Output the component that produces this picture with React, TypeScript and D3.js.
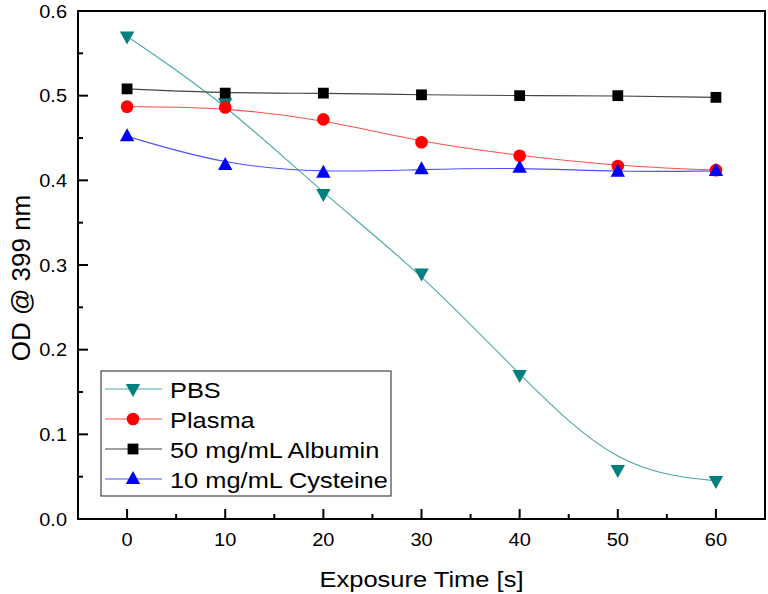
import React from "react";
import * as d3 from "d3";

const times = [0, 10, 20, 30, 40, 50, 60];
const pbs = [0.57, 0.491, 0.384, 0.29, 0.17, 0.058, 0.045];
const plasma = [0.487, 0.486, 0.472, 0.445, 0.429, 0.417, 0.412];
const albumin = [0.508, 0.503, 0.503, 0.501, 0.5, 0.5, 0.498];
const cysteine = [0.452, 0.418, 0.409, 0.413, 0.415, 0.41, 0.411];
const seriesNames = ["PBS", "Plasma", "50 mg/mL Albumin", "10 mg/mL Cysteine"];
const xTicks = [0, 10, 20, 30, 40, 50, 60];
const xMinor = [5, 15, 25, 35, 45, 55];
const yTicks = [0.0, 0.1, 0.2, 0.3, 0.4, 0.5, 0.6];
const yMinor = [0.05, 0.15, 0.25, 0.35, 0.45, 0.55];

const W = 768, H = 594;
const L = 78, R = 765, T = 11, B = 519;
const font = "Liberation Sans, Arial, sans-serif";
const SY = 0.9;

type Shape = "down" | "circle" | "square" | "up";
const series: { name: string; values: number[]; color: string; line: string; shape: Shape }[] = [
  { name: seriesNames[0], values: pbs, color: "#008080", line: "#4aa8a8", shape: "down" },
  { name: seriesNames[1], values: plasma, color: "#ff0000", line: "#ff5050", shape: "circle" },
  { name: seriesNames[2], values: albumin, color: "#000000", line: "#444444", shape: "square" },
  { name: seriesNames[3], values: cysteine, color: "#0000ff", line: "#5050ff", shape: "up" },
];

function Marker({ shape, x, y, color }: { shape: Shape; x: number; y: number; color: string }) {
  if (shape === "circle") return <circle cx={x} cy={y} r={6.3} fill={color} />;
  if (shape === "square") return <rect x={x - 5.4} y={y - 5.4} width={10.8} height={10.8} fill={color} />;
  const s = 7.2;
  if (shape === "down")
    return <path d={`M${x - s},${y - 5}L${x + s},${y - 5}L${x},${y + 8}Z`} fill={color} />;
  return <path d={`M${x - s},${y + 5}L${x + s},${y + 5}L${x},${y - 8}Z`} fill={color} />;
}

function T2({ x, y, size, anchor, children }: { x: number; y: number; size: number; anchor?: string; children: React.ReactNode }) {
  return (
    <text transform={`translate(${x},${y}) scale(1,${SY})`} textAnchor={anchor || "start"} fontSize={size} fill="#000">
      {children}
    </text>
  );
}

export default function App() {
  const x = d3.scaleLinear().domain([-5, 65]).range([L, R]);
  const y = d3.scaleLinear().domain([0, 0.6]).range([B, T]);
  const line = d3
    .line<[number, number]>()
    .x((d) => x(d[0]))
    .y((d) => y(d[1]))
    .curve(d3.curveBasis);

  const legX = 101, legY = 371, legW = 290, legH = 125;
  const rowH = 30;

  return (
    <svg width={W} height={H} style={{ position: "absolute", left: 0, top: 0, background: "#fff" }} fontFamily={font}>
      <rect x={0} y={0} width={W} height={H} fill="#fff" />
      {series.map((s) => (
        <path
          key={s.name + "l"}
          d={line(times.map((t, i) => [t, s.values[i]] as [number, number])) || ""}
          fill="none"
          stroke={s.line}
          strokeWidth={1.1}
        />
      ))}
      {series.map((s) =>
        times.map((t, i) => <Marker key={s.name + t} shape={s.shape} x={x(t)} y={y(s.values[i])} color={s.color} />)
      )}
      <rect x={L} y={T} width={R - L} height={B - T} fill="none" stroke="#000" strokeWidth={2} />
      {xTicks.map((t) => (
        <g key={"xt" + t}>
          <line x1={x(t)} x2={x(t)} y1={B} y2={B - 10} stroke="#000" strokeWidth={2} />
          <T2 x={x(t)} y={546} size={20} anchor="middle">
            {t}
          </T2>
        </g>
      ))}
      {xMinor.map((t) => (
        <line key={"xm" + t} x1={x(t)} x2={x(t)} y1={B} y2={B - 5} stroke="#000" strokeWidth={2} />
      ))}
      {yTicks.map((t) => (
        <g key={"yt" + t}>
          <line x1={L} x2={L + 10} y1={y(t)} y2={y(t)} stroke="#000" strokeWidth={2} />
          <T2 x={67} y={y(t) + 6.5} size={20} anchor="end">
            {t.toFixed(1)}
          </T2>
        </g>
      ))}
      {yMinor.map((t) => (
        <line key={"ym" + t} x1={L} x2={L + 5} y1={y(t)} y2={y(t)} stroke="#000" strokeWidth={2} />
      ))}
      <T2 x={(L + R) / 2} y={587} size={25.5} anchor="middle">
        Exposure Time [s]
      </T2>
      <text transform={`translate(30,278) rotate(-90)`} textAnchor="middle" fontSize={26} fill="#000">
        OD @ 399 nm
      </text>
      <rect x={legX} y={legY} width={legW} height={legH} fill="#fff" stroke="#444" strokeWidth={1.2} />
      {series.map((s, i) => {
        const cy = 389 + i * rowH;
        return (
          <g key={"lg" + s.name}>
            <line x1={105} x2={162} y1={cy} y2={cy} stroke={s.line} strokeWidth={1.1} />
            <Marker shape={s.shape} x={133} y={cy} color={s.color} />
            <T2 x={170} y={cy + 8.5} size={25.4}>
              {s.name}
            </T2>
          </g>
        );
      })}
    </svg>
  );
}
